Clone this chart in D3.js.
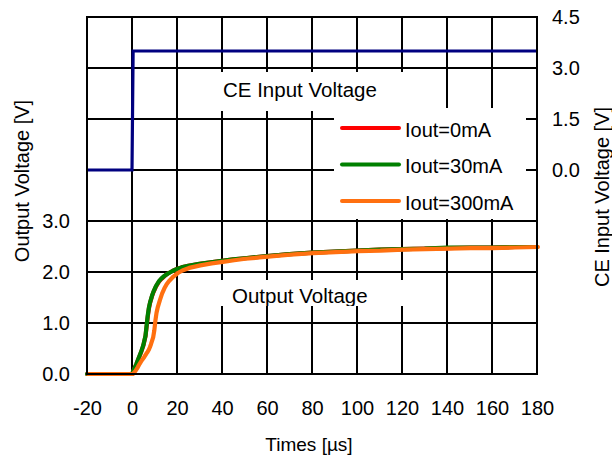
<!DOCTYPE html>
<html><head><meta charset="utf-8">
<script src="https://cdn.jsdelivr.net/npm/d3@7"></script>
<style>
html,body{margin:0;padding:0;background:#fff;}
svg text{font-family:"Liberation Sans",Arial,sans-serif;fill:#000;}
</style></head>
<body>
<svg id="chart" width="612" height="456"></svg>
<script>
// ---- data ----
const xTicks = [-20,0,20,40,60,80,100,120,140,160,180];
const xTickLabels = ["-20","0","20","40","60","80","100","120","140","160","180"];
const leftTicks = [0,1,2,3];
const rightTicks = [0,1.5,3,4.5];
const ceTime = [-20, 0, 0.5, 180];
const ceVolt = [0, 0, 3.5, 3.5];
const seriesNames = ["Iout=0mA","Iout=30mA","Iout=300mA"];
const seriesColors = ["#ff0000","#008000","#ff7010"];
const outTime = [-20,0,1,2,3,4,5,6,6.5,7,7.5,8,9,9.5,10,10.5,11,12,13,14,15,16,18,20,22,25,30,35,40,45,50,60,70,80,90,100,110,120,130,140,150,160,170,180];
const out0mA  = [0,0,0.1,0.2,0.31,0.42,0.55,0.74,0.93,1.12,1.28,1.39,1.54,1.6,1.65,1.7,1.74,1.81,1.86,1.9,1.94,1.97,2.02,2.06,2.09,2.12,2.16,2.19,2.22,2.25,2.27,2.31,2.35,2.38,2.40,2.42,2.44,2.45,2.46,2.47,2.48,2.48,2.49,2.49];
const out30mA = [0,0,0.1,0.2,0.32,0.43,0.56,0.75,0.95,1.15,1.3,1.4,1.55,1.61,1.66,1.71,1.75,1.82,1.87,1.91,1.94,1.97,2.02,2.06,2.09,2.12,2.16,2.19,2.22,2.25,2.27,2.31,2.35,2.38,2.40,2.42,2.44,2.45,2.46,2.48,2.48,2.48,2.49,2.49];
const out300mA= [0,0,0.05,0.12,0.2,0.27,0.33,0.4,0.43,0.47,0.52,0.58,0.72,0.85,1.05,1.2,1.3,1.45,1.58,1.68,1.76,1.82,1.91,1.98,2.03,2.08,2.13,2.17,2.2,2.23,2.26,2.3,2.34,2.37,2.39,2.41,2.42,2.44,2.45,2.46,2.47,2.47,2.48,2.49];
const outSeries = [out0mA, out30mA, out300mA];

// ---- layout ----
const L = 87, R = 537, T = 17, B = 374;
const svg = d3.select("#chart");
const x = d3.scaleLinear().domain([-20,180]).range([L,R]);
const yL = d3.scaleLinear().domain([0,7]).range([B,T]);
const yR = d3.scaleLinear().domain([-6,4.5]).range([B,T]);

// grid
const grid = svg.append("g").attr("stroke","#000").attr("stroke-width",2);
grid.selectAll("line.v").data(xTicks).join("line")
  .attr("x1",d=>x(d)).attr("x2",d=>x(d)).attr("y1",T).attr("y2",B);
grid.selectAll("line.h").data(d3.range(0,8)).join("line")
  .attr("y1",d=>yL(d)).attr("y2",d=>yL(d)).attr("x1",L).attr("x2",R);

// white label boxes (over grid)
svg.append("rect").attr("x",219).attr("y",72).attr("width",205).attr("height",39).attr("fill","#fff");
svg.append("rect").attr("x",219).attr("y",280).attr("width",200).attr("height",26).attr("fill","#fff");
svg.append("rect").attr("x",334).attr("y",108).attr("width",192).attr("height",111).attr("fill","#fff");

// labels in boxes
svg.append("text").attr("x",223).attr("y",97).attr("font-size",20.5).text("CE Input Voltage");
svg.append("defs").append("clipPath").attr("id","ovclip")
  .append("rect").attr("x",219).attr("y",280).attr("width",200).attr("height",26);
svg.append("text").attr("x",232).attr("y",303).attr("font-size",20.5)
  .attr("clip-path","url(#ovclip)").text("Output Voltage");

// CE line
const ceData = ceTime.map((t,i)=>[t,ceVolt[i]]);
svg.append("path").datum(ceData)
  .attr("fill","none").attr("stroke","#000080").attr("stroke-width",3.2)
  .attr("d", d3.line().x(d=>x(d[0])).y(d=>yR(d[1])));

// output lines
const line = d3.line().x(d=>x(d[0])).y(d=>yL(d[1]));
outSeries.forEach((s,k)=>{
  svg.append("path").datum(outTime.map((t,i)=>[t + (k===2?0.4:0), s[i]]))
    .attr("fill","none").attr("stroke",seriesColors[k]).attr("stroke-width",4.2)
    .attr("stroke-linejoin","round").attr("stroke-linecap","round")
    .attr("d", line);
});

// frame
svg.append("rect").attr("x",L).attr("y",T).attr("width",R-L).attr("height",B-T)
  .attr("fill","none").attr("stroke","#000").attr("stroke-width",2);

// legend
const lg = svg.append("g");
seriesNames.forEach((n,i)=>{
  const yy = 128 + i*36.5;
  lg.append("line").attr("x1",342).attr("x2",399).attr("y1",yy).attr("y2",yy)
    .attr("stroke",seriesColors[i]).attr("stroke-width",4).attr("stroke-linecap","round");
  lg.append("text").attr("x",405).attr("y",yy+8.5).attr("font-size",20).text(n);
});

// axes
const ax = svg.append("g").attr("transform",`translate(0,${B})`)
  .call(d3.axisBottom(x).tickValues(xTicks).tickSize(0).tickPadding(27).tickFormat((d,i)=>xTickLabels[i]));
const al = svg.append("g").attr("transform",`translate(${L},0)`)
  .call(d3.axisLeft(yL).tickValues(leftTicks).tickSize(0).tickPadding(17).tickFormat(d3.format(".1f")));
const ar = svg.append("g").attr("transform",`translate(${R},0)`)
  .call(d3.axisRight(yR).tickValues(rightTicks).tickSize(0).tickPadding(15).tickFormat(d3.format(".1f")));
[ax,al,ar].forEach(g=>{
  g.select(".domain").remove();
  g.selectAll("text").attr("font-size",20).attr("font-family","Liberation Sans, Arial, sans-serif").attr("fill","#000");
});

// axis titles
svg.append("text").attr("x",309).attr("y",451).attr("text-anchor","middle").attr("font-size",19).text("Times [µs]");
svg.append("text").attr("transform","translate(29,181) rotate(-90)").attr("text-anchor","middle").attr("font-size",20).text("Output Voltage [V]");
svg.append("text").attr("transform","translate(609,197) rotate(-90)").attr("text-anchor","middle").attr("font-size",20).text("CE Input Voltage [V]");
</script>
</body></html>
